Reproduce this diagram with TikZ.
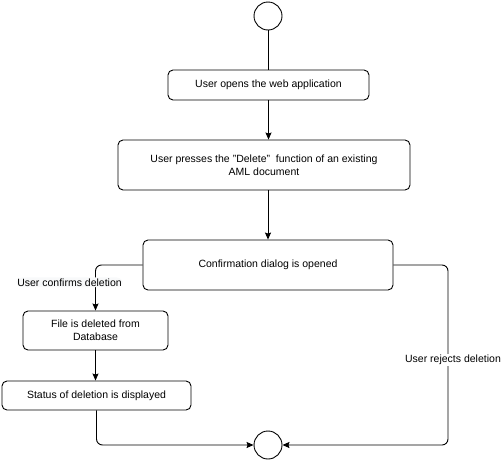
\documentclass[tikz,border=0pt]{standalone}
\usepackage{fontspec}
\setmainfont{Liberation Sans}
\usetikzlibrary{arrows.meta,positioning}

\begin{document}
\begin{tikzpicture}
        [
        x = 1pt, y = -1pt,
        line width = 0.9pt,
        font = \fontsize{10.5}{13}\selectfont,
        >= {Stealth[length = 7pt, width = 6pt, inset = 1pt]},
        action/.style = {
            draw, rounded corners = 5pt,
            align = center,
            inner sep = 0pt,
        },
        terminal/.style = {
            draw, circle,
            minimum size = 28pt,
            inner sep = 0pt,
        },
        guard/.style = {
            inner sep = 1pt,
        },
        ]
        \useasboundingbox (0,0) rectangle (503,461);

        % Start en einde
        \node[terminal] (start) at (268,16) {};
        \node[terminal] (finish) at (268,445) {};

        % Acties
        \node[action, minimum width = 201pt, minimum height = 30pt] (open_app) at (268.5,85) {User opens the web application};
        \node[action, minimum width = 292pt, minimum height = 50pt] (press_delete) at (264,165) {User presses the "Delete"\ \ function of an existing \\ AML document};
        \node[action, minimum width = 250pt, minimum height = 50pt] (confirm_dialog) at (268,265) {Confirmation dialog is opened};
        \node[action, minimum width = 145pt, minimum height = 39pt] (file_deleted) at (95.5,330.5) {File is deleted from \\ Database};
        \node[action, minimum width = 189pt, minimum height = 29pt] (show_status) at (96.5,395.5) {Status of deletion is displayed};

        % Overgangen
        \draw (start) -- (start |- open_app.north);
        \draw[->] (open_app.south) -- (open_app.south |- press_delete.north);
        \draw[->] (confirm_dialog.north |- press_delete.south) -- (confirm_dialog.north);
        \draw[->] (file_deleted.south) -- (file_deleted.south |- show_status.north);

        \draw[->, rounded corners = 6pt] (confirm_dialog.west) -| (file_deleted.north)
            node[guard, pos = 0.69, xshift = -26pt, fill = {rgb,255:red,248;green,249;blue,250}] {User confirms deletion};
        \draw[->, rounded corners = 6pt] (show_status.south) |- (finish.west);
        \draw[->, rounded corners = 6pt] (confirm_dialog.east) -- (448,265) -- (448,445) -- (finish.east);
        \node[guard, fill = white] (reject_label) at (453,360) {User rejects deletion};
    \end{tikzpicture}
\end{document}
